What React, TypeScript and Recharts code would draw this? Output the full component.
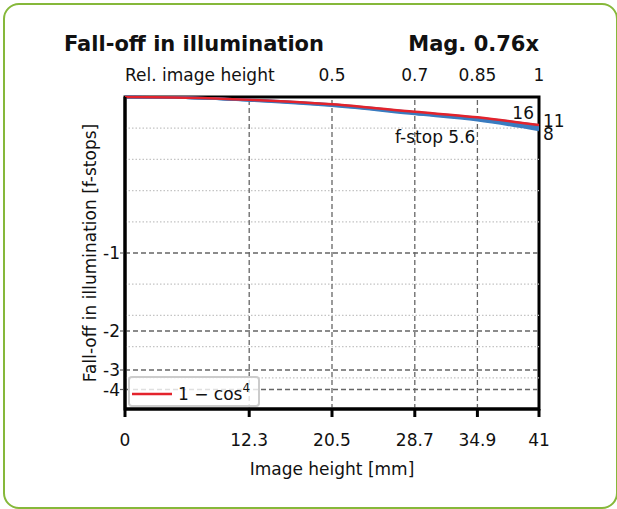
import React from "react";
import {
  LineChart,
  Line,
  XAxis,
  YAxis,
  ReferenceLine,
  ReferenceArea,
  ReferenceDot,
  Legend,
  Label,
} from "recharts";

// image height positions [mm] where values were read
const imageHeight = [0, 6, 12.3, 20.5, 28.7, 34.9, 41];
// fall-off in f-stops
const cos4Stops = [0, -0.003, -0.0126, -0.034, -0.07, -0.097, -0.136];
const f16Stops = [0, -0.003, -0.013, -0.035, -0.072, -0.099, -0.138];
const f11Stops = [0, -0.003, -0.014, -0.037, -0.075, -0.104, -0.147];
const f8Stops = [0, -0.004, -0.015, -0.039, -0.078, -0.108, -0.155];
const f56Stops = [0, -0.004, -0.016, -0.041, -0.081, -0.112, -0.161];

const xTicks = [0, 12.3, 20.5, 28.7, 34.9, 41];
const relTicks = [20.5, 28.7, 34.9, 41];
const relLabels = ["0.5", "0.7", "0.85", "1"];
const stopTicks = [-1, -2, -3, -4];
const illumGrid = [0.1, 0.2, 0.3, 0.4, 0.6, 0.7, 0.8, 0.9];

const FONT = "DejaVu Sans";
const BLUE = "#3a7cc0";
const RED = "#e3232c";

// y is plotted as relative illumination (2^stops)
const data = imageHeight.map((h, i) => ({
  h,
  cos4: Math.pow(2, cos4Stops[i]),
  f16: Math.pow(2, f16Stops[i]),
  f11: Math.pow(2, f11Stops[i]),
  f8: Math.pow(2, f8Stops[i]),
  f56: Math.pow(2, f56Stops[i]),
}));

const last = imageHeight.length - 1;

const lineLabel =
  (text: string, dx: number, dy: number, anchor: "start" | "end") =>
  (props: any) => {
    const vb = props.viewBox || {};
    const x = (vb.x || 0) + (vb.width || 0) / 2 + dx;
    const y = (vb.y || 0) + (vb.height || 0) / 2 + dy;
    return (
      <text x={x} y={y} textAnchor={anchor} fontSize={17} fontFamily={FONT} fill="#111">
        {text}
      </text>
    );
  };

const TopTick = (props: any) => {
  const { x, y, payload } = props;
  if (payload.value === 0) {
    return (
      <text x={x} y={y} textAnchor="start" fontSize={17} fontFamily={FONT} fill="#111">
        Rel. image height
      </text>
    );
  }
  const idx = relTicks.indexOf(payload.value);
  return (
    <text x={x} y={y} textAnchor="middle" fontSize={17} fontFamily={FONT} fill="#111">
      {relLabels[idx]}
    </text>
  );
};

const YLabel = (props: any) => {
  const vb = props.viewBox || {};
  const cx = 96;
  const cy = vb.y + vb.height / 2;
  return (
    <text
      x={cx}
      y={cy}
      textAnchor="middle"
      fontSize={17}
      fontFamily={FONT}
      fill="#111"
      transform={`rotate(-90, ${cx}, ${cy})`}
    >
      Fall-off in illumination [f-stops]
    </text>
  );
};

const LegendBox = () => (
  <svg width={132} height={31} style={{ display: "block" }}>
    <rect x={1} y={1} width={130} height={29} rx={3} fill="rgba(255,255,255,0.8)" stroke="#cccccc" strokeWidth={2} />
    <line x1={4} y1={18} x2={44} y2={18} stroke={RED} strokeWidth={2.5} />
    <text x={50} y={24} fontSize={17} fontFamily={FONT} fill="#111">
      1 − cos
      <tspan dy={-8} fontSize={12}>4</tspan>
    </text>
  </svg>
);

export default function App() {
  return (
    <div style={{ position: "absolute", left: 0, top: 0, width: 617, height: 509, background: "#fff", overflow: "hidden" }}>
      <div
        style={{
          position: "absolute",
          left: 3,
          top: 3,
          width: 611,
          height: 502,
          border: "2.5px solid #86b83a",
          borderRadius: 16,
        }}
      />
      <svg style={{ position: "absolute", left: 0, top: 0 }} width={617} height={60}>
        <text x={64} y={51} fontSize={21} fontWeight="bold" fontFamily={FONT} fill="#111">
          Fall-off in illumination
        </text>
        <text x={539} y={51} textAnchor="end" fontSize={21} fontWeight="bold" fontFamily={FONT} fill="#111">
          Mag. 0.76x
        </text>
      </svg>
      <div style={{ position: "absolute", left: 0, top: 0 }}>
        <LineChart
          width={617}
          height={509}
          data={data}
          margin={{ top: 67, right: 78, bottom: 30, left: 60 }}
        >
          <XAxis
            dataKey="h"
            type="number"
            domain={[0, 41]}
            ticks={xTicks}
            interval={0}
            tickSize={8}
            tickMargin={17}
            height={70}
            axisLine={{ stroke: "#000", strokeWidth: 3 }}
            tickLine={{ stroke: "#000", strokeWidth: 3 }}
            tick={{ fontSize: 17, fontFamily: FONT, fill: "#111" }}
          >
            <Label
              value="Image height [mm]"
              position="insideBottom"
              offset={4}
              style={{ fontSize: 17, fontFamily: FONT, fill: "#111" }}
            />
          </XAxis>
          <XAxis
            xAxisId="top"
            orientation="top"
            dataKey="h"
            type="number"
            domain={[0, 41]}
            ticks={[0, ...relTicks]}
            interval={0}
            tickSize={0}
            tickMargin={16}
            height={30}
            axisLine={false}
            tickLine={false}
            tick={<TopTick />}
          />
          <YAxis
            type="number"
            domain={[0, 1]}
            ticks={stopTicks.map((s) => Math.pow(2, s))}
            interval={0}
            width={65}
            tickSize={5}
            tickMargin={0}
            axisLine={{ stroke: "#000", strokeWidth: 3 }}
            tickLine={{ stroke: "#666", strokeWidth: 1.2, strokeDasharray: "3 2" }}
            tickFormatter={(v: number) => String(Math.round(Math.log2(v)))}
            tick={{ fontSize: 17, fontFamily: FONT, fill: "#111" }}
          >
            <Label content={<YLabel />} />
          </YAxis>

          {illumGrid.map((g) => (
            <ReferenceLine key={"d" + g} y={g} stroke="#c4c4c4" strokeWidth={1.2} strokeDasharray="1.5 2" />
          ))}
          {stopTicks.map((s) => (
            <ReferenceLine key={"s" + s} y={Math.pow(2, s)} stroke="#666" strokeWidth={1.3} strokeDasharray="5 3" />
          ))}
          {xTicks.slice(1, -1).map((t) => (
            <ReferenceLine key={"x" + t} x={t} stroke="#666" strokeWidth={1.3} strokeDasharray="5 3" />
          ))}

          <Line dataKey="f56" type="monotone" stroke={BLUE} strokeWidth={2.5} dot={false} isAnimationActive={false} legendType="none" />
          <Line dataKey="f8" type="monotone" stroke={BLUE} strokeWidth={2.5} dot={false} isAnimationActive={false} legendType="none" />
          <Line dataKey="f11" type="monotone" stroke={BLUE} strokeWidth={2.5} dot={false} isAnimationActive={false} legendType="none" />
          <Line dataKey="f16" type="monotone" stroke={BLUE} strokeWidth={2.5} dot={false} isAnimationActive={false} legendType="none" />
          <Line dataKey="cos4" type="monotone" stroke={RED} strokeWidth={2.5} dot={false} isAnimationActive={false} name="1 − cos⁴" />

          <ReferenceDot x={41} y={data[last].f16} r={0} fill="none" stroke="none" label={lineLabel("16", -5, -6.5, "end")} />
          <ReferenceDot x={41} y={data[last].f11} r={0} fill="none" stroke="none" label={lineLabel("11", 4, -0.5, "start")} />
          <ReferenceDot x={41} y={data[last].f8} r={0} fill="none" stroke="none" label={lineLabel("8", 4, 11, "start")} />
          <ReferenceDot x={34.9} y={data[5].f56} r={0} fill="none" stroke="none" label={lineLabel("f-stop 5.6", -2, 23, "end")} />

          <ReferenceArea x1={0} x2={41} y1={0} y2={1} fill="none" stroke="#000" strokeWidth={3} fillOpacity={0} />

          <Legend
            layout="horizontal"
            verticalAlign="middle"
            align="center"
            content={<LegendBox />}
            wrapperStyle={{ position: "absolute", left: 128, top: 376, width: 132, height: 31 }}
          />
        </LineChart>
      </div>
    </div>
  );
}
